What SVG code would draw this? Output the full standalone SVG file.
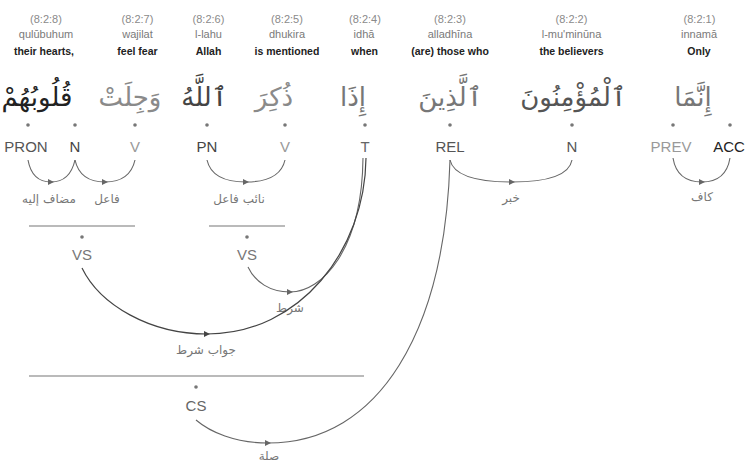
<svg xmlns="http://www.w3.org/2000/svg" width="745" height="463" viewBox="0 0 745 463">
<defs>
<style>
.loc{font-family:"Liberation Sans",Arial,sans-serif;font-size:11px;fill:#8a8a8a;text-anchor:middle}
.tr{font-family:"Liberation Sans",Arial,sans-serif;font-size:11px;fill:#7a7a7a;text-anchor:middle}
.en{font-family:"Liberation Sans",Arial,sans-serif;font-size:10.5px;font-weight:bold;fill:#222;text-anchor:middle}
.ar{font-family:"DejaVu Sans",sans-serif;font-size:26px;text-anchor:middle}
.tag{font-family:"Liberation Sans",Arial,sans-serif;font-size:15px;text-anchor:middle}
.lbl{font-family:"DejaVu Sans",sans-serif;font-size:12px;fill:#777;text-anchor:middle}
.dot{fill:#777}
.arc{fill:none;stroke:#666;stroke-width:1.1;marker-mid:url(#ah)}
.arcd{fill:none;stroke:#444;stroke-width:1.2;marker-mid:url(#ahd)}
.bar{stroke:#777;stroke-width:1.2}
</style>
<marker id="ah" viewBox="0 0 10 10" refX="5" refY="5" markerWidth="6" markerHeight="6" markerUnits="userSpaceOnUse" orient="auto"><path d="M0,0 L10,5 L0,10 z" fill="#666"/></marker>
<marker id="ahd" viewBox="0 0 10 10" refX="5" refY="5" markerWidth="6" markerHeight="6" markerUnits="userSpaceOnUse" orient="auto"><path d="M0,0 L10,5 L0,10 z" fill="#444"/></marker>
</defs>
<rect width="745" height="463" fill="#fff"/>

<g id="word-8">
<text class="loc" x="46" y="23">(8:2:8)</text>
<text class="tr" x="46" y="38">qulūbuhum</text>
<text class="en" x="44" y="55">their hearts,</text>
<text class="ar" x="37" y="106" fill="#222">قُلُوبُهُمْ</text>
<circle class="dot" cx="28" cy="125" r="1.8"/>
<text class="tag" x="26" y="152" fill="#555">PRON</text>
<circle class="dot" cx="75" cy="125" r="1.8"/>
<text class="tag" x="75" y="152" fill="#444">N</text>
</g>
<g id="word-7">
<text class="loc" x="137.5" y="23">(8:2:7)</text>
<text class="tr" x="137.5" y="38">wajilat</text>
<text class="en" x="137.5" y="55">feel fear</text>
<text class="ar" x="130" y="106" fill="#8a8a8a">وَجِلَتْ</text>
<circle class="dot" cx="135" cy="125" r="1.8"/>
<text class="tag" x="135" y="152" fill="#999">V</text>
</g>
<g id="word-6">
<text class="loc" x="208.5" y="23">(8:2:6)</text>
<text class="tr" x="208.5" y="38">l-lahu</text>
<text class="en" x="208.5" y="55">Allah</text>
<text class="ar" x="204" y="106" fill="#444">ٱللَّهُ</text>
<circle class="dot" cx="207" cy="125" r="1.8"/>
<text class="tag" x="207" y="152" fill="#444">PN</text>
</g>
<g id="word-5">
<text class="loc" x="287" y="23">(8:2:5)</text>
<text class="tr" x="287" y="38">dhukira</text>
<text class="en" x="287" y="55">is mentioned</text>
<text class="ar" x="274" y="106" fill="#8a8a8a">ذُكِرَ</text>
<circle class="dot" cx="285" cy="125" r="1.8"/>
<text class="tag" x="285" y="152" fill="#999">V</text>
</g>
<g id="word-4">
<text class="loc" x="365" y="23">(8:2:4)</text>
<text class="tr" x="364" y="38">idhā</text>
<text class="en" x="364.5" y="55">when</text>
<text class="ar" x="353" y="106" fill="#777">إِذَا</text>
<circle class="dot" cx="365" cy="125" r="1.8"/>
<text class="tag" x="365" y="152" fill="#666">T</text>
</g>
<g id="word-3">
<text class="loc" x="450" y="23">(8:2:3)</text>
<text class="tr" x="450" y="38">alladhīna</text>
<text class="en" x="450" y="55">(are) those who</text>
<text class="ar" x="450" y="106" fill="#777">ٱلَّذِينَ</text>
<circle class="dot" cx="450" cy="125" r="1.8"/>
<text class="tag" x="450" y="152" fill="#555">REL</text>
</g>
<g id="word-2">
<text class="loc" x="571.5" y="23">(8:2:2)</text>
<text class="tr" x="571.5" y="38">l-mu'minūna</text>
<text class="en" x="571.5" y="55">the believers</text>
<text class="ar" x="573" y="106" fill="#555">ٱلْمُؤْمِنُونَ</text>
<circle class="dot" cx="572" cy="125" r="1.8"/>
<text class="tag" x="572" y="152" fill="#555">N</text>
</g>
<g id="word-1">
<text class="loc" x="699.5" y="23">(8:2:1)</text>
<text class="tr" x="699" y="38">innamā</text>
<text class="en" x="699" y="55">Only</text>
<text class="ar" x="693" y="106" fill="#777">إِنَّمَا</text>
<circle class="dot" cx="673" cy="125" r="1.8"/>
<text class="tag" x="671" y="152" fill="#999">PREV</text>
<circle class="dot" cx="730" cy="125" r="1.8"/>
<text class="tag" x="729" y="152" fill="#222">ACC</text>
</g>

<g id="phrase-vs1">
<line class="bar" x1="29" y1="226" x2="135" y2="226"/>
<circle class="dot" cx="82" cy="237" r="1.8"/>
<text class="tag" x="82" y="260" fill="#777">VS</text>
</g>
<g id="phrase-vs2">
<line class="bar" x1="209" y1="226" x2="285" y2="226"/>
<circle class="dot" cx="247" cy="237" r="1.8"/>
<text class="tag" x="247" y="260" fill="#777">VS</text>
</g>
<g id="phrase-cs">
<line class="bar" x1="29" y1="376" x2="364" y2="376"/>
<circle class="dot" cx="196" cy="387" r="1.8"/>
<text class="tag" x="196" y="411" fill="#666">CS</text>
</g>

<g id="connectors">
<path class="arc" d="M28,160 Q32,182 51,182 Q70,182 75,160"/>
<text class="lbl" x="49" y="203">مضاف إليه</text>
<path class="arc" d="M75,160 Q80,182 105,182 Q130,182 135,160"/>
<text class="lbl" x="107" y="203">فاعل</text>
<path class="arc" d="M207,160 Q212,182 246,182 Q280,182 285,160"/>
<text class="lbl" x="239" y="203">نائب فاعل</text>
<path class="arc" d="M450,160 Q455,182 512,182 Q568,182 572,160"/>
<text class="lbl" x="511" y="202">خبر</text>
<path class="arc" d="M673,158 Q677,182 702,182 Q726,182 730,158"/>
<text class="lbl" x="702" y="201">كاف</text>
<path class="arc" d="M248,267 C255,282 270,292 290,292 C322,292 362,250 363,158"/>
<text class="lbl" x="290" y="312" fill="#999">شرط</text>
<path class="arcd" d="M82,268 C100,305 150,334 207,334 C300,334 365,250 366,158"/>
<text class="lbl" x="206" y="354" fill="#444">جواب شرط</text>
<path class="arc" d="M196,420 C210,432 235,443 268,443 C380,443 445,330 450,160"/>
<text class="lbl" x="269" y="460">صلة</text>
</g>
</svg>
